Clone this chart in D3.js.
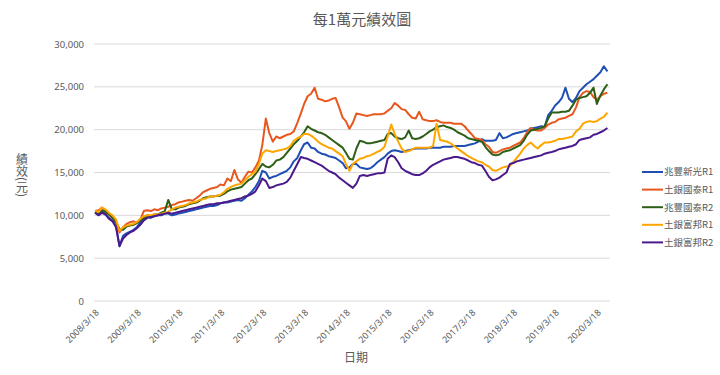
<!DOCTYPE html>
<html>
<head>
<meta charset="utf-8">
<script src="https://cdn.jsdelivr.net/npm/d3@7"></script>
<style>
  body { margin: 0; background: #fff; }
  text { font-family: "Noto Sans CJK TC", "Noto Sans", sans-serif; fill: #595959; }
</style>
</head>
<body>
<svg id="chart" width="720" height="375"></svg>
<script>
// monthly points starting 2008/3/18
const startDate = new Date(2008, 2, 18);
const tickLabels = ["2008/3/18", "2009/3/18", "2010/3/18", "2011/3/18", "2012/3/18", "2013/3/18",
  "2014/3/18", "2015/3/18", "2016/3/18", "2017/3/18", "2018/3/18", "2019/3/18", "2020/3/18"];
const yTicks = [0, 5000, 10000, 15000, 20000, 25000, 30000];
const seriesNames = ["兆豐新光R1", "土銀國泰R1", "兆豐國泰R2", "土銀富邦R1", "土銀富邦R2"];

const blueR1 = [
  10400, 10200, 10500, 10100, 9700, 9400, 8700, 6400, 7600, 7900,
  8100, 8300, 8600, 9200, 9500, 9800, 9700, 9900, 10000, 10000, 10200, 10200,
  10000, 10100, 10200, 10300, 10400, 10500, 10600, 10700, 10800, 10900, 11000, 11100,
  11100, 11200, 11400, 11500, 11500, 11600, 11700, 11800, 11700, 12000, 12400, 12800,
  13300, 14000, 15200, 15000, 14300, 14500, 14600, 14800, 15000, 15200, 15600, 16300,
  16700, 17600, 18300, 18500, 17900, 17800, 17400, 17200, 17100, 16900, 16800, 16700,
  16400, 16100, 15500, 15600, 16000, 16000, 15600, 15500, 15400, 15500, 15800, 16200,
  16500, 16800, 17200, 17500, 17600, 17500, 17400, 17500, 17600, 17700, 17800, 17800,
  17800, 17800, 17900, 17900, 17900, 17900, 18000, 18000, 18000, 18100, 18100, 18100,
  18100, 18200, 18300, 18400, 18600, 18900, 18700, 18700, 18700, 18800, 19600, 19000,
  19100, 19300, 19500, 19600, 19700, 19800, 19900, 20100, 20200, 20300, 20400, 20300,
  21700, 22200, 22800, 23200, 23700, 24900, 23600, 23200, 23700, 24500, 24900, 25300,
  25600, 25900, 26300, 26700, 27400, 26800
];
const landCathayR1 = [
  10500, 10600, 10900, 10500, 10100, 9700, 9200, 8000, 8600, 9000,
  9200, 9300, 9100, 9500, 10500, 10600, 10500, 10700, 10600, 10800, 10900, 11000,
  11200, 11300, 11500, 11600, 11700, 11800, 11700, 12000, 12300, 12700, 12900, 13100,
  13200, 13300, 13600, 13500, 14300, 14000, 15300, 14200, 13800, 14500, 15100, 15000,
  15600, 16400, 18200, 21300, 19600, 18600, 19200, 19000, 19200, 19400, 19500, 19800,
  20800, 21900, 23000, 23900, 24200, 24900, 23600, 23500, 23300, 23400, 23600, 23700,
  22600, 21400, 21000, 20100, 20800, 21900, 21800, 21700, 21600, 21700, 21800, 21800,
  21800, 21900, 22200, 22500, 23100, 22800, 22400, 22300, 21800, 21400, 21300, 22100,
  21200, 21100, 21000, 21000, 21100, 20900, 20800, 20800, 20800, 20700, 20700, 20700,
  20400, 19900, 19500, 19000, 18900, 18800, 18300, 18000, 17400, 17300, 17500, 17700,
  17800, 17900, 18100, 18300, 18500, 19000, 19700, 20200, 20000, 19900, 19900, 20200,
  20600, 20800, 20900, 21200, 21300, 21400, 21600, 21800, 22600, 23800, 24300, 24500,
  24400, 23800, 23500, 23900, 24200, 24300
];
const megaCathayR2 = [
  10400, 10200, 10600, 10400, 10100, 9700, 9200, 8400, 8300, 8700,
  8800, 8900, 9100, 9400, 9700, 10000, 9900, 10100, 10100, 10300, 10500, 11800,
  10700, 10700, 10900, 11000, 11100, 11300, 11400, 11500, 11700, 12000, 12100, 12200,
  12200, 12300, 12300, 12500, 12800, 13000, 13100, 13200, 13300, 13700, 14100, 14300,
  14800, 15400, 16000, 15700, 15600, 15900, 16400, 16500, 16800, 17300, 17800, 18300,
  18700, 19200, 19700, 20400, 20100, 19900, 19700, 19600, 19400, 19100, 18800, 18500,
  18200, 17900, 17300, 16600, 16500, 17800, 18700, 18600, 18400, 18400, 18500, 18600,
  18700, 18800, 19500, 19600, 19200, 19000, 18900, 19100, 19900, 19000, 18900, 19000,
  19200, 19500, 19800, 20000, 20300, 20400, 20500, 20300, 20200, 20000, 19700, 19500,
  19300, 19000, 18900, 18800, 18700, 18600, 18000, 17500, 17100, 17000, 17100, 17400,
  17500, 17600, 17800, 18000, 18200, 18700, 19400, 19900, 20000, 20100, 20200, 20400,
  21300, 22000, 22000, 22000, 22100, 22100, 22200, 22800, 23500, 23700, 23800, 23900,
  24300, 24900, 23000, 24000, 24700, 25300
];
const landFubonR1 = [
  10500, 10400, 10900, 10700, 10300, 10000, 9500, 8200, 8600, 8800,
  8900, 9000, 9200, 9600, 9900, 10000, 10000, 10100, 10100, 10200, 10300, 10400,
  10700, 10900, 11000, 11100, 11200, 11400, 11500, 11600, 11800, 11900, 12000, 12200,
  12200, 12300, 12400, 12700, 13100, 13300, 13500, 13600, 13700, 14100, 14500, 14800,
  15100, 16000, 17200, 17600, 17500, 17400, 17500, 17600, 17700, 17800, 18100, 18700,
  19000, 19200, 19500, 19500, 19300, 19000, 18600, 18300, 18100, 17900, 17800, 17500,
  17200, 16900, 16000, 15200, 16000, 16300, 16600, 16700, 16900, 17000, 17200, 17400,
  17600, 18000, 19200, 20600, 19500, 18600, 17800, 17400, 17500, 17700, 17900, 17900,
  17900, 17900, 17900, 18100, 20700, 18800, 18700, 18600, 18400, 18100, 17800, 17500,
  17200, 16900, 16700, 16500, 16300, 16200, 15900, 15700, 15300, 15200, 15400, 15600,
  15700, 15800, 16200, 16700, 17200, 17800, 18200, 18500, 18100, 17800, 18200, 18500,
  18500, 18600, 18700, 18900, 18900, 19000, 19100, 19200, 19800, 20100, 20700, 20900,
  21000, 20900, 21000, 21300, 21500, 22000
];
const landFubonR2 = [
  10300, 10000, 10300, 10100, 9600, 9300, 8600, 6400, 7300, 7700,
  8000, 8200, 8500, 8900, 9400, 9700, 9800, 9900, 10000, 10100, 10200, 10300,
  10200, 10300, 10400, 10500, 10600, 10700, 10800, 10900, 11000, 11100, 11200, 11300,
  11300, 11400, 11400, 11500, 11600, 11700, 11800, 11900, 12000, 12200, 12300, 12500,
  12800, 13500, 14300, 14000, 13200, 13300, 13500, 13600, 13700, 13900, 14400, 15200,
  16000, 16800, 16700, 16600, 16400, 16200, 16000, 15800, 15500, 15200, 15000, 14800,
  14400, 14100, 13800, 13500, 13200, 13700, 14600, 14700, 14600, 14700, 14800, 14900,
  14900, 15000, 16600, 17000, 16800, 16200, 15500, 15200, 15000, 14800, 14700, 14700,
  14900, 15200, 15600, 15900, 16100, 16300, 16500, 16600, 16700, 16800, 16800, 16700,
  16600, 16400, 16200, 16100, 15900, 15800, 15200, 14500, 14100, 14200, 14400, 14700,
  15000, 16000, 16100, 16300, 16400, 16500, 16600, 16700, 16800, 16900, 17000, 17200,
  17300, 17400, 17500, 17700, 17800, 17900, 18000, 18100, 18300, 18800, 18900, 19000,
  19100, 19400, 19500, 19700, 19900, 20200
];

const seriesValues = [blueR1, landCathayR1, megaCathayR2, landFubonR1, landFubonR2];
const colors = ["#1f4eb4", "#e8571e", "#2d5f16", "#ffa500", "#4a1a8c"];

const dates = blueR1.map((d, i) => d3.timeMonth.offset(startDate, i));
const parseLabel = d3.timeParse("%Y/%m/%d");

const svg = d3.select("#chart");
const x = d3.scaleTime()
  .domain([startDate, new Date(2020, 6, 2)])
  .range([95, 609]);
const y = d3.scaleLinear()
  .domain([0, 30000])
  .range([301, 44]);

// gridlines
svg.append("g")
  .selectAll("line")
  .data(yTicks)
  .enter().append("line")
  .attr("x1", 94).attr("x2", 610)
  .attr("y1", d => y(d)).attr("y2", d => y(d))
  .attr("stroke", "#d9d9d9").attr("stroke-width", 1);

// y axis labels
const yAxis = svg.append("g")
  .attr("transform", "translate(84,0)")
  .call(d3.axisLeft(y).tickValues(yTicks).tickSize(0).tickPadding(0).tickFormat(d3.format(",")));
yAxis.select(".domain").remove();
yAxis.selectAll("text")
  .style("font-size", "9.5px")
  .style("font-family", "'Noto Sans', sans-serif")
  .attr("fill", "#595959");

// x axis labels
const xAxis = svg.append("g")
  .attr("transform", "translate(0,301)")
  .call(d3.axisBottom(x).tickValues(tickLabels.map(parseLabel)).tickSize(0)
    .tickFormat(d3.timeFormat("%Y/%-m/%-d")));
xAxis.select(".domain").remove();
xAxis.selectAll("text")
  .style("font-size", "9px")
  .style("font-family", "'Noto Sans', sans-serif")
  .attr("fill", "#595959")
  .attr("text-anchor", "end")
  .attr("dy", "0.35em")
  .attr("y", 0)
  .attr("transform", "translate(2,10) rotate(-45)");

// lines
const line = d3.line()
  .x((d, i) => x(dates[i]))
  .y(d => y(d));

svg.append("g")
  .selectAll("path")
  .data(seriesValues)
  .enter().append("path")
  .attr("d", line)
  .attr("fill", "none")
  .attr("stroke", (d, i) => colors[i])
  .attr("stroke-width", 2)
  .attr("stroke-linejoin", "round");

// title
svg.append("text")
  .attr("x", 362).attr("y", 25)
  .attr("text-anchor", "middle")
  .style("font-size", "15px")
  .text("每1萬元績效圖");

svg.append("text")
  .attr("x", 356).attr("y", 362)
  .attr("text-anchor", "middle")
  .style("font-size", "12px")
  .text("日期");

svg.append("text")
  .attr("x", 22).attr("y", 153)
  .style("font-size", "12px")
  .style("writing-mode", "vertical-rl")
  .text("績效(元)");

// legend
const legend = svg.append("g")
  .selectAll("g")
  .data(seriesNames)
  .enter().append("g")
  .attr("transform", (d, i) => "translate(642," + (172 + i * 17.6) + ")");
legend.append("line")
  .attr("x1", 0).attr("x2", 21)
  .attr("stroke", (d, i) => colors[i])
  .attr("stroke-width", 2);
legend.append("text")
  .attr("x", 22).attr("dy", "0.35em")
  .style("font-size", "9.5px")
  .text(d => d);
</script>
</body>
</html>
